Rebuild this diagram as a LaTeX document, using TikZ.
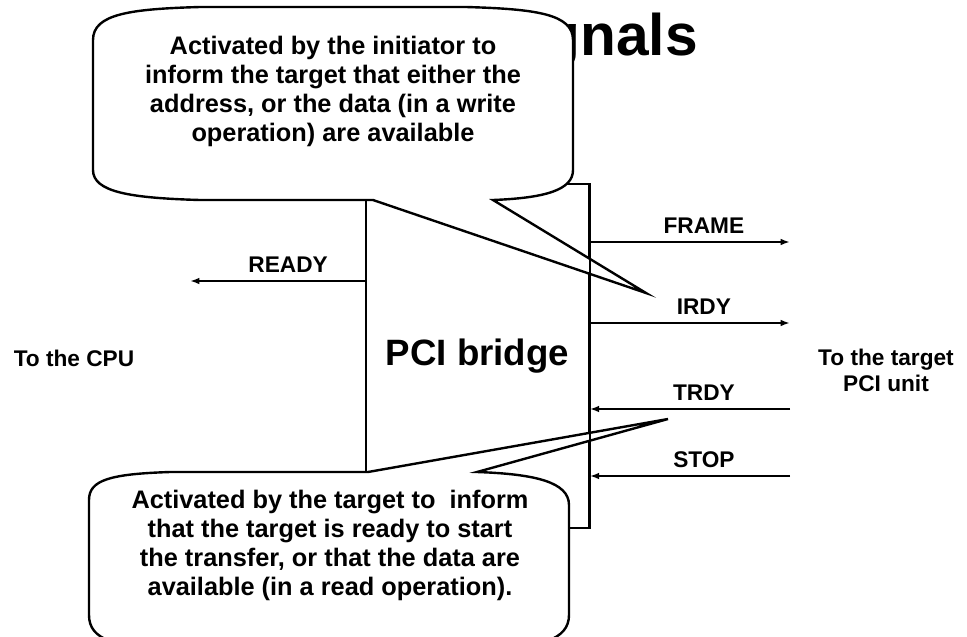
\documentclass[tikz,border=0pt]{standalone}
\usepackage{fontspec}
\setmainfont{Liberation Sans}
\usetikzlibrary{arrows.meta}

\begin{document}
\begin{tikzpicture}[x=0.75pt,y=-0.75pt,
    sig/.style={-{Latex[length=7pt,width=5pt]},line width=1.4pt},
    lbl/.style={font=\bfseries\fontsize{17}{19.5}\selectfont,align=center},
    callout/.style={draw,fill=white,line width=1.8pt,line join=miter},
    note/.style={font=\bfseries\fontsize{19}{21.75}\selectfont,align=center}]
    \useasboundingbox (0,0) rectangle (967,636);
    \clip (0,0) rectangle (967,636);

    \node[anchor=base east,inner sep=0pt,font=\bfseries\fontsize{44}{50}\selectfont](title) at (698,55) {Signals};

    \node[draw,line width=1.4pt,minimum width=167pt,minimum height=258pt,font=\bfseries\fontsize{27.5}{30}\selectfont](bridge) at (477.5,356) {PCI bridge};

    \coordinate (readyEnd) at (190,281);
    \coordinate (frameEnd) at (790,242);
    \coordinate (irdyEnd) at (790,323);
    \coordinate (trdyEnd) at (790,409);
    \coordinate (stopEnd) at (790,476);

    \draw[sig] (bridge.west |- readyEnd) -- node[lbl,above=2pt,pos=0.44]{READY} (readyEnd);
    \draw[sig] (bridge.east |- frameEnd) -- node[lbl,above=2pt,pos=0.57]{FRAME} (frameEnd);
    \draw[sig] (bridge.east |- irdyEnd) -- node[lbl,above=2pt,pos=0.57]{IRDY} (irdyEnd);
    \draw[sig] (trdyEnd) -- node[lbl,above=2pt,pos=0.43]{TRDY} (bridge.east |- trdyEnd);
    \draw[sig] (stopEnd) -- node[lbl,above=2pt,pos=0.43]{STOP} (bridge.east |- stopEnd);

    \node[lbl](cpu) at (74,358) {To the CPU};
    \node[lbl](target) at (886,370) {To the target\\PCI unit};

    % callout from the initiator side
    \draw[callout] (93,40) .. controls (93,14) and (130,9) .. (200,7) -- (466,7) .. controls (536,9) and (573,14) .. (573,40) -- (573,170) .. controls (573,190) and (545,198) .. (493,200) -- (646,293) -- (373,200) -- (200,200) .. controls (130,198) and (93,192) .. (93,170) -- cycle;
    \node[note](initNote) at (333,91) {Activated by the initiator to\\inform the target that either the\\address, or the data (in a write\\operation) are available};

    % callout from the target side
    \draw[callout] (89,500) .. controls (89,480) and (110,474) .. (170,472) -- (368,472) -- (668,419) -- (477,472) .. controls (535,474) and (569,482) .. (569,505) -- (569,615) .. controls (569,640) and (540,648) .. (480,650) -- (180,650) .. controls (115,648) and (89,640) .. (89,615) -- cycle;
    \node[note](targetNote) at (330,545) {Activated by the target to\ \ inform\\that the target is ready to start\\the transfer, or that the data are\\available (in a read operation).};

    \draw[line width=1.4pt] (bridge.north east) -- (bridge.south east);
\end{tikzpicture}
\end{document}
